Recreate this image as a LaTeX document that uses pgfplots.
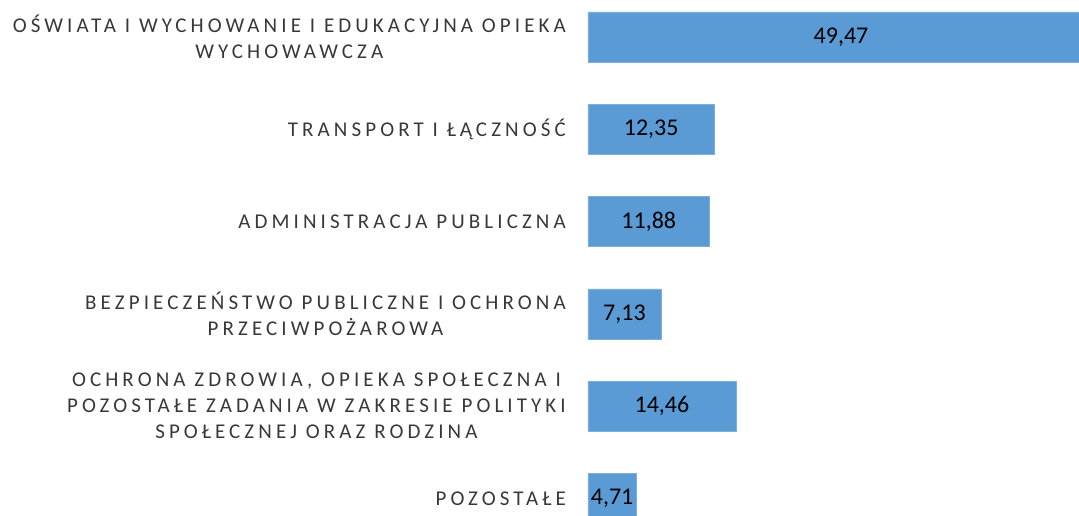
\documentclass[border=0pt]{standalone}
\usepackage{fontspec}
\setmainfont{Carlito}
\usepackage{pgfplots}
\usepackage{pgfplotstable}
\pgfplotsset{compat=1.18}
\definecolor{barblue}{HTML}{5B9BD5}
\definecolor{labgray}{HTML}{383838}
\pgfplotstableread{
y val
0 49.47
1 12.35
2 11.88
3 7.13
4 14.46
5 4.71
}\datatable
\begin{document}
\begin{tikzpicture}
\path[use as bounding box] (-588pt,0pt) rectangle (491pt,515pt);
\begin{axis}[
  at={(0pt,0pt)}, anchor=south west,
  scale only axis,
  width=491pt, height=515pt,
  xmin=0, xmax=48.0,
  ymin=-0.40, ymax=5.18,
  y dir=reverse,
  clip=false,
  xbar, bar width=50pt,
  hide x axis,
  axis y line*=left,
  y axis line style={draw=none},
  ytick={0,1,2,3,4,5},
  ytick style={draw=none},
  major tick length=0pt,
  yticklabel shift=22pt,
  yticklabels={
    {OŚWIATA I WYCHOWANIE I EDUKACYJNA OPIEKA\\WYCHOWAWCZA},
    {TRANSPORT I ŁĄCZNOŚĆ},
    {ADMINISTRACJA PUBLICZNA},
    {BEZPIECZEŃSTWO PUBLICZNE I OCHRONA\\PRZECIWPOŻAROWA},
    {OCHRONA ZDROWIA, OPIEKA SPOŁECZNA I\\POZOSTAŁE ZADANIA W ZAKRESIE POLITYKI\\SPOŁECZNEJ ORAZ RODZINA},
    {POZOSTAŁE}
  },
  yticklabel style={align=center, inner sep=0pt, text=labgray,
    font={\fontsize{21}{26}\selectfont\addfontfeature{LetterSpace=19.5}}},
  point meta=x,
  nodes near coords={\pgfmathprintnumber[fixed, fixed zerofill, precision=2, use comma, assume math mode=true]{\pgfplotspointmeta}},
  visualization depends on={\thisrow{val} \as \xval},
  every node near coord/.append style={anchor=center, inner sep=0pt,
    font={\fontsize{24}{28}\selectfont}, text=black,
    xshift={-0.5*\xval*10.229pt}},
]
\addplot[fill=barblue, draw=barblue!80!white] table[x=val, y=y] \datatable;
\end{axis}
\end{tikzpicture}
\end{document}
